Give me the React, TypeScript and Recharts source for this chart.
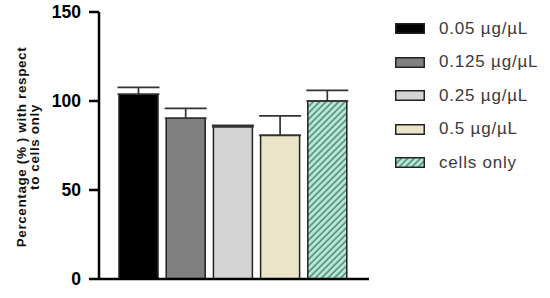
import React from "react";
import { BarChart, Bar, XAxis, YAxis, Cell, ErrorBar } from "recharts";

const categories = ["0.05 µg/µL", "0.125 µg/µL", "0.25 µg/µL", "0.5 µg/µL", "cells only"];
const values = [103.8, 90.3, 85.6, 80.7, 100];
const errors = [3.9, 5.6, 0.7, 10.9, 6];
const yTicks = [0, 50, 100, 150];
const yLabelLines = ["Percentage (% ) with respect", "to cells only"];
const colors = ["#000000", "#808080", "#d4d4d4", "#ece4c9", "url(#hatch)"];

const data = categories.map((name, i) => ({ name, value: values[i], err: [0, errors[i]] }));

const FONT = "'Liberation Sans', Arial, sans-serif";

const LegendContent = () => (
  <div style={{ fontFamily: FONT, position: "absolute", left: 395, top: 12 }}>
    {categories.map((c, i) => (
      <div key={c} style={{ display: "flex", alignItems: "center", height: 33.5 }}>
        <svg width={30} height={11} style={{ display: "block" }}>
          <rect x={0.75} y={0.75} width={28.5} height={9.5} fill={colors[i]} stroke="#222" strokeWidth={1.5} />
        </svg>
        <span style={{ marginLeft: 14, fontSize: 17, letterSpacing: 0.8, color: "#3a3a3a", whiteSpace: "nowrap" }}>{c}</span>
      </div>
    ))}
  </div>
);

const YLabel = () => (
  <div
    style={{
      position: "absolute",
      left: 28,
      top: 147,
      width: 240,
      transform: "translate(-50%, -50%) rotate(-90deg)",
      textAlign: "center",
      fontFamily: FONT,
      fontWeight: "bold",
      fontSize: 13.5,
      letterSpacing: 0.6,
      lineHeight: "13px",
      color: "#111",
      whiteSpace: "nowrap",
    }}
  >
    {yLabelLines.map((l) => (
      <div key={l}>{l}</div>
    ))}
  </div>
);

export default function App() {
  return (
    <div style={{ position: "absolute", left: 0, top: 0, width: 550, height: 298, background: "#fff" }}>
      <svg width={0} height={0} style={{ position: "absolute" }}>
        <defs>
          <pattern id="hatch" patternUnits="userSpaceOnUse" width={4.5} height={4.5} patternTransform="rotate(45)">
            <rect x={0} y={0} width={4.5} height={4.5} fill="#b3ead6" />
            <line x1={1} y1={0} x2={1} y2={4.5} stroke="#4f7d6e" strokeWidth={1.4} />
          </pattern>
        </defs>
      </svg>
      <BarChart width={550} height={298} data={data} margin={{ top: 12, right: 181, bottom: 0, left: 0 }}>
        <XAxis
          dataKey="name"
          tick={false}
          tickLine={false}
          height={19}
          padding={{ left: 16, right: 18 }}
          axisLine={{ stroke: "#000", strokeWidth: 2.5 }}
        />
        <YAxis
          width={99}
          domain={[0, 150]}
          ticks={yTicks}
          interval={0}
          tickSize={10}
          tickMargin={8}
          axisLine={{ stroke: "#000", strokeWidth: 2.5 }}
          tickLine={{ stroke: "#000", strokeWidth: 2.5 }}
          tick={{ fill: "#000", fontSize: 17.5, fontWeight: "bold", fontFamily: FONT }}
        />
        <Bar dataKey="value" barSize={39} stroke="#222" strokeWidth={1.5} isAnimationActive={false}>
          {data.map((d, i) => (
            <Cell key={d.name} fill={colors[i]} />
          ))}
          <ErrorBar dataKey="err" width={21} stroke="#333" strokeWidth={1.7} direction="y" isAnimationActive={false} />
        </Bar>
      </BarChart>
      <YLabel />
      <LegendContent />
    </div>
  );
}
